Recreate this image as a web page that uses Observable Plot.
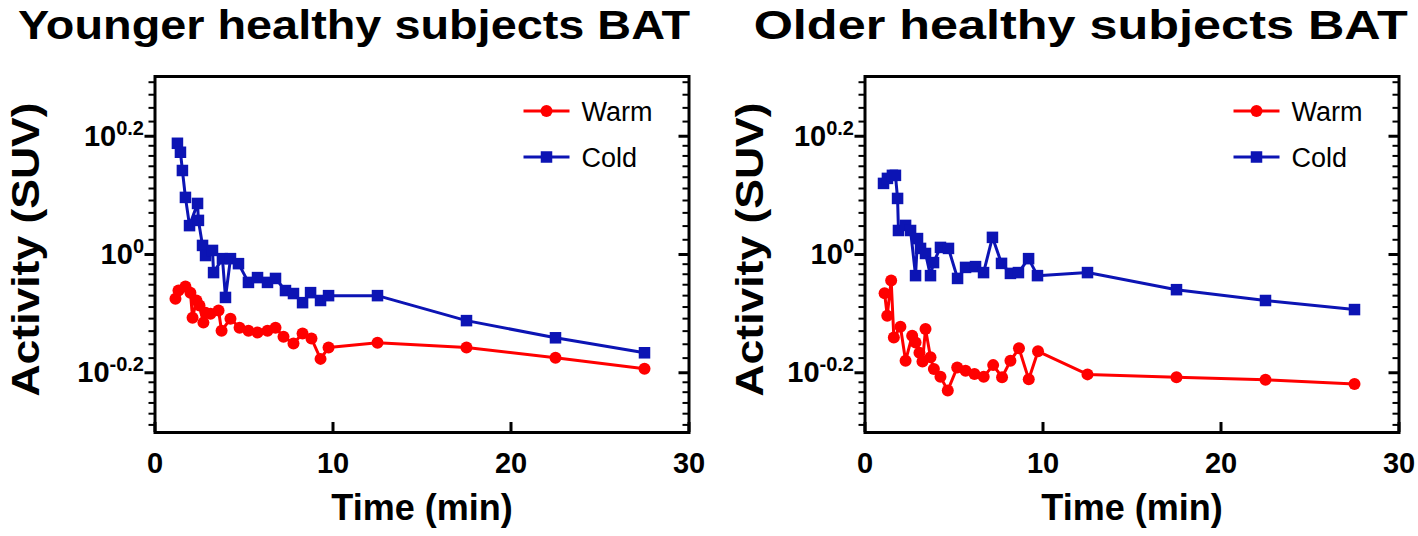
<!DOCTYPE html>
<html>
<head>
<meta charset="utf-8">
<script src="https://cdn.jsdelivr.net/npm/d3@7"></script>
<script src="https://cdn.jsdelivr.net/npm/@observablehq/plot@0.6"></script>
<style>
  html, body { margin: 0; padding: 0; background: #fff; }
  #wrap { position: relative; width: 1418px; height: 536px; overflow: hidden; font-family: "Liberation Sans", Arial, sans-serif; }
  .title { position: absolute; top: 5px; font-weight: bold; font-size: 40px; line-height: 1; white-space: nowrap; color: #000; transform-origin: 50% 50%; }
  .panel { position: absolute; top: 0; }
</style>
</head>
<body>
<div id="wrap"></div>
<script>
// ---------- data ----------
const titles = ["Younger healthy subjects BAT", "Older healthy subjects BAT"];
const seriesNames = ["Warm", "Cold"];
const xLabel = "Time (min)";
const yLabel = "Activity (SUV)";
const xTicks = [0, 10, 20, 30];
const yMajorTicks = [0.6309573, 1, 1.5848932];
const yMajorLabels = ["-0.2", "0", "0.2"];
const yMinorTicks = [0.515, 0.538, 0.561, 0.585, 0.608,
  0.668, 0.705, 0.742, 0.779, 0.815, 0.852, 0.889, 0.926, 0.963,
  1.059, 1.117, 1.176, 1.234, 1.293, 1.351, 1.41, 1.468, 1.527,
  1.678, 1.77, 1.863, 1.956];

const youngWarmTime = [1.15,1.32,1.71,1.99,2.11,2.33,2.50,2.72,2.84,3.12,3.57,3.74,4.24,4.75,5.25,5.76,6.32,6.77,7.22,7.78,8.29,8.79,9.30,9.75,12.5,17.5,22.5,27.5];
const youngWarm = [0.842,0.869,0.883,0.862,0.782,0.836,0.820,0.767,0.797,0.794,0.804,0.743,0.779,0.752,0.743,0.738,0.743,0.752,0.726,0.707,0.735,0.721,0.666,0.696,0.709,0.696,0.669,0.641];

const youngColdTime = [1.26,1.43,1.54,1.71,1.94,2.39,2.44,2.67,2.84,3.23,3.29,3.79,3.96,4.24,4.69,5.25,5.76,6.32,6.77,7.33,7.78,8.29,8.74,9.30,9.75,12.5,17.5,22.5,27.5];
const youngCold = [1.542,1.489,1.387,1.249,1.119,1.220,1.142,1.036,0.996,1.016,0.932,0.984,0.846,0.984,0.965,0.897,0.914,0.897,0.911,0.869,0.859,0.829,0.862,0.836,0.852,0.852,0.773,0.723,0.682];

const olderWarmTime = [1.10,1.25,1.47,1.62,1.99,2.28,2.65,2.84,3.06,3.23,3.40,3.68,3.87,4.24,4.65,5.18,5.65,6.15,6.67,7.20,7.70,8.17,8.65,9.20,9.72,12.5,17.5,22.5,27.5];
const olderWarm = [0.860,0.788,0.904,0.724,0.755,0.661,0.729,0.710,0.682,0.659,0.748,0.670,0.640,0.621,0.589,0.644,0.636,0.628,0.621,0.650,0.620,0.661,0.694,0.615,0.686,0.627,0.620,0.614,0.604];

const olderColdTime = [1.04,1.26,1.54,1.71,1.83,1.88,2.28,2.56,2.84,2.95,3.12,3.40,3.68,3.85,4.24,4.69,5.20,5.65,6.21,6.66,7.16,7.67,8.17,8.62,9.19,9.69,12.5,17.5,22.5,27.5];
const olderCold = [1.319,1.345,1.361,1.361,1.244,1.098,1.120,1.098,0.921,1.064,1.024,1.004,0.921,0.969,1.028,1.024,0.911,0.951,0.954,0.932,1.069,0.966,0.929,0.932,0.984,0.921,0.932,0.872,0.836,0.807];

// ---------- styling ----------
const RED = "#ff0000";
const BLUE = "#0c14b4";
const FONT = "'Liberation Sans', Arial, Helvetica, sans-serif";

function rows(times, vals) { return times.map((t, i) => ({t, v: vals[i]})); }

function makePanel(cfg) {
  const W = 709, H = 536;
  const mt = 76, mb = 104;
  const frameW = W - cfg.ml - cfg.mr;
  const frameH = H - mt - mb;
  const warm = rows(cfg.warmT, cfg.warm);
  const cold = rows(cfg.coldT, cfg.cold);
  const svg = Plot.plot({
    width: W, height: H,
    marginLeft: cfg.ml, marginRight: cfg.mr, marginTop: mt, marginBottom: mb,
    style: {fontFamily: FONT, fontWeight: "bold", background: "white", overflow: "visible", color: "black"},
    x: {domain: [0, 30]},
    y: {type: "log", domain: [0.5, 2]},
    marks: [
      // left axis: minor + major outward ticks
      Plot.axisY(yMinorTicks, {anchor: "left", tickSize: 6, strokeWidth: 2, tickFormat: () => "", label: null}),
      Plot.axisY(yMajorTicks, {anchor: "left", tickSize: 10, strokeWidth: 3, tickPadding: 1, fontSize: 29,
        tickFormat: (d) => "10^" + yMajorLabels[yMajorTicks.indexOf(d)], label: null}),
      // mirrored inward ticks on the right edge
      Plot.ruleY(yMinorTicks, {insetLeft: frameW - 6, strokeWidth: 2}),
      Plot.ruleY(yMajorTicks, {insetLeft: frameW - 10, strokeWidth: 3}),
      // bottom axis: inward ticks + labels
      Plot.ruleX(xTicks, {insetTop: frameH - 10, strokeWidth: 3}),
      Plot.axisX(xTicks, {anchor: "bottom", tickSize: 0, tickPadding: 20, fontSize: 29, label: null}),
      Plot.text([xLabel], {frameAnchor: "bottom", text: d => d, dy: 76, fontSize: 36, lineAnchor: "middle", textAnchor: "middle"}),
      Plot.text([yLabel], {frameAnchor: "left", text: d => d, dx: cfg.ylx, dy: -5, rotate: -90, fontSize: 38,
        lineAnchor: "middle", textAnchor: "middle"}),
      // data
      Plot.line(warm, {x: "t", y: "v", stroke: RED, strokeWidth: 3}),
      Plot.dot(warm, {x: "t", y: "v", fill: RED, symbol: "circle", r: 6}),
      Plot.line(cold, {x: "t", y: "v", stroke: BLUE, strokeWidth: 3}),
      Plot.dot(cold, {x: "t", y: "v", fill: BLUE, symbol: "square", r: 6.5}),
      Plot.frame({stroke: "black", strokeWidth: 3})
    ]
  });

  // superscript exponents on log tick labels; stretch the axis title to the reference length
  svg.querySelectorAll("text").forEach(el => {
    if (el.textContent === yLabel) {
      el.setAttribute("textLength", 294);
      el.setAttribute("lengthAdjust", "spacingAndGlyphs");
      return;
    }
    const m = /^10\^(.*)$/.exec(el.textContent);
    if (!m) return;
    el.textContent = "";
    const a = document.createElementNS("http://www.w3.org/2000/svg", "tspan");
    a.textContent = "10";
    const b = document.createElementNS("http://www.w3.org/2000/svg", "tspan");
    b.textContent = m[1];
    b.setAttribute("dy", "-0.55em");
    b.setAttribute("font-size", "20");
    el.appendChild(a); el.appendChild(b);
  });

  // legend inside the frame (top right)
  const g = d3.select(svg).append("g").attr("font-family", FONT).attr("font-weight", "normal")
    .attr("text-anchor", "start");
  const lx = cfg.ml + 369, lw = 46;
  const items = [{name: seriesNames[0], color: RED, sym: "circle", y: 111},
                 {name: seriesNames[1], color: BLUE, sym: "square", y: 157}];
  items.forEach(it => {
    g.append("line").attr("x1", lx).attr("x2", lx + lw).attr("y1", it.y).attr("y2", it.y)
      .attr("stroke", it.color).attr("stroke-width", 3);
    if (it.sym === "circle") {
      g.append("circle").attr("cx", lx + lw / 2).attr("cy", it.y).attr("r", 6).attr("fill", it.color);
    } else {
      g.append("rect").attr("x", lx + lw / 2 - 5.75).attr("y", it.y - 5.75).attr("width", 11.5).attr("height", 11.5).attr("fill", it.color);
    }
    g.append("text").attr("x", lx + lw + 12).attr("y", it.y).attr("dy", "0.36em")
      .attr("font-size", 27).attr("fill", "black").attr("text-anchor", "start").text(it.name);
  });
  return svg;
}

const wrap = document.getElementById("wrap");
const panels = [
  {left: 0, ml: 154.5, mr: 20.5, ylx: -128, warmT: youngWarmTime, warm: youngWarm, coldT: youngColdTime, cold: youngCold,
   title: titles[0], tLeft: 18, tRight: 690},
  {left: 709, ml: 155.5, mr: 19.5, ylx: -114, warmT: olderWarmTime, warm: olderWarm, coldT: olderColdTime, cold: olderCold,
   title: titles[1], tLeft: 754, tRight: 1408}
];
panels.forEach(p => {
  const div = document.createElement("div");
  div.className = "panel";
  div.style.left = p.left + "px";
  div.appendChild(makePanel(p));
  wrap.appendChild(div);
  const t = document.createElement("div");
  t.className = "title";
  t.textContent = p.title;
  wrap.appendChild(t);
  const w = t.getBoundingClientRect().width;
  const target = p.tRight - p.tLeft;
  t.style.left = ((p.tLeft + p.tRight) / 2 - w / 2) + "px";
  t.style.transform = "scaleX(" + (target / w) + ")";
});
</script>
</body>
</html>
